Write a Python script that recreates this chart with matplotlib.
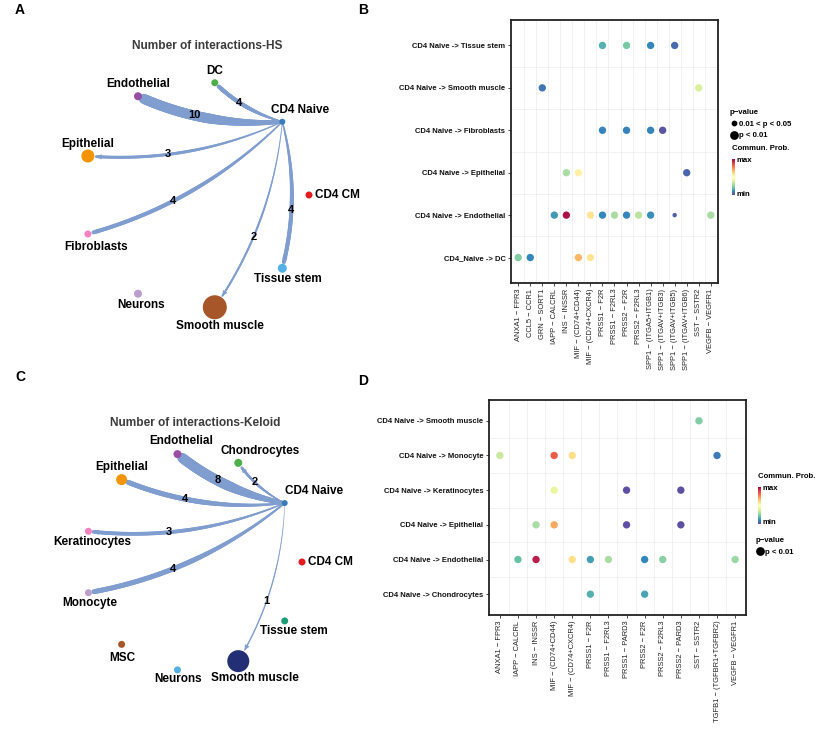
import numpy as np
import matplotlib
matplotlib.use("Agg")
import matplotlib.pyplot as plt
from matplotlib.collections import LineCollection
from matplotlib.lines import Line2D
from matplotlib.colors import Normalize
from matplotlib.cm import ScalarMappable

plt.rcParams['font.family'] = ['Liberation Sans', 'DejaVu Sans']

# ---------------- data: network HS (panel A) ----------------
hs_nodes = ["CD4 CM", "CD4 Naive", "DC", "Endothelial", "Epithelial",
            "Fibroblasts", "Neurons", "Smooth muscle", "Tissue stem"]
hs_colors = ['#E41A1C', '#377EB8', '#4DAF4A', '#984EA3', '#F29403',
             '#F781BF', '#BC9DCC', '#A65628', '#54B0E4']
hs_node_size = [3.5, 3, 3.5, 4, 6.5, 3.5, 4, 12, 4.5]
hs_targets = ["DC", "Endothelial", "Epithelial", "Fibroblasts", "Smooth muscle", "Tissue stem"]
hs_counts = [4, 10, 3, 4, 2, 4]

# ---------------- data: network Keloid (panel C) ----------------
kel_nodes = ["CD4 CM", "CD4 Naive", "Chondrocytes", "Endothelial", "Epithelial",
             "Keratinocytes", "Monocyte", "MSC", "Neurons", "Smooth muscle", "Tissue stem"]
kel_colors = ['#E41A1C', '#377EB8', '#4DAF4A', '#984EA3', '#F29403', '#F781BF',
              '#BC9DCC', '#A65628', '#54B0E4', '#222F75', '#1B9E77']
kel_node_size = [3.5, 3, 4, 4, 5.5, 3.5, 3.5, 3.5, 3.5, 11, 3.5]
kel_targets = ["Chondrocytes", "Endothelial", "Epithelial", "Keratinocytes", "Monocyte", "Smooth muscle"]
kel_counts = [2, 8, 4, 3, 4, 1]

# ---------------- data: bubble HS (panel B) ----------------
b_cols = ["ANXA1 − FPR3", "CCL5 − CCR1", "GRN − SORT1", "IAPP − CALCRL", "INS − INSSR",
          "MIF − (CD74+CD44)", "MIF − (CD74+CXCR4)", "PRSS1 − F2R", "PRSS1 − F2RL3",
          "PRSS2 − F2R", "PRSS2 − F2RL3", "SPP1 − (ITGA5+ITGB1)", "SPP1 − (ITGAV+ITGB3)",
          "SPP1 − (ITGAV+ITGB5)", "SPP1 − (ITGAV+ITGB6)", "SST − SSTR2", "VEGFB − VEGFR1"]
b_targets = ["Tissue stem", "Smooth muscle", "Fibroblasts", "Epithelial", "Endothelial", "DC"]
b_rows = ["CD4 Naive -> Tissue stem", "CD4 Naive -> Smooth muscle", "CD4 Naive -> Fibroblasts",
          "CD4 Naive -> Epithelial", "CD4 Naive -> Endothelial", "CD4_Naive -> DC"]
b_row = ["Tissue stem"] * 4 + ["Smooth muscle"] * 2 + ["Fibroblasts"] * 4 + ["Epithelial"] * 3 \
    + ["Endothelial"] * 10 + ["DC"] * 4
b_col = [7, 9, 11, 13,
         2, 15,
         7, 9, 11, 12,
         4, 5, 14,
         3, 4, 6, 7, 8, 9, 10, 11, 13, 16,
         0, 1, 5, 6]
b_prob = [0.17, 0.23, 0.10, 0.05,
          0.07, 0.38,
          0.09, 0.09, 0.09, 0.01,
          0.30, 0.55, 0.04,
          0.13, 0.97, 0.58, 0.10, 0.30, 0.10, 0.33, 0.11, 0.03, 0.30,
          0.24, 0.10, 0.68, 0.58]
b_sig = [1] * 21 + [0] + [1] * 5   # 1: p < 0.01, 0: 0.01 < p < 0.05

# ---------------- data: bubble Keloid (panel D) ----------------
d_cols = ["ANXA1 − FPR3", "IAPP − CALCRL", "INS − INSSR", "MIF − (CD74+CD44)", "MIF − (CD74+CXCR4)",
          "PRSS1 − F2R", "PRSS1 − F2RL3", "PRSS1 − PARD3", "PRSS2 − F2R", "PRSS2 − F2RL3",
          "PRSS2 − PARD3", "SST − SSTR2", "TGFB1 − (TGFBR1+TGFBR2)", "VEGFB − VEGFR1"]
d_targets = ["Smooth muscle", "Monocyte", "Keratinocytes", "Epithelial", "Endothelial", "Chondrocytes"]
d_rows = ["CD4 Naive -> " + t for t in d_targets]
d_row = ["Smooth muscle"] + ["Monocyte"] * 4 + ["Keratinocytes"] * 3 + ["Epithelial"] * 4 \
    + ["Endothelial"] * 8 + ["Chondrocytes"] * 2
d_col = [11,
         0, 3, 4, 12,
         3, 7, 10,
         2, 3, 7, 10,
         1, 2, 4, 5, 6, 8, 9, 13,
         5, 8]
d_prob = [0.24,
          0.35, 0.83, 0.60, 0.08,
          0.42, 0.0, 0.0,
          0.30, 0.71, 0.0, 0.0,
          0.20, 0.95, 0.60, 0.14, 0.30, 0.10, 0.25, 0.28,
          0.17, 0.15]
d_sig = [1] * len(d_prob)

# ---------------- style ----------------
edge_color = '#809dd0'
hs_lab_dx = [6, 18, 0, 0, 0, 8, 3, 5, 6]
hs_lab_dy = [0, -12, -12, -12, -12, 13, 11, 19, 11]
kel_lab_dx = [6, 29, 22, 4, 0, 4, 1, 1, 1, 17, 9]
kel_lab_dy = [0, -12, -12, -13, -13, 11, 10, 14, 9, 17, 10]

W, H = 837, 729
fig = plt.figure(figsize=(W / 100, H / 100), dpi=100)

net = fig.add_axes([0, 0, 420 / W, 1])
net.set_xlim(0, 420)
net.set_ylim(H, 0)
net.axis('off')


def draw_network(ax, nodes, colors, sizes, targets, counts, center, R, ldx, ldy, title, tpos):
    n = len(nodes)
    ang = 2 * np.pi * np.arange(n) / n
    xy = np.c_[center[0] + R * np.cos(ang), center[1] - R * np.sin(ang)]
    src = xy[nodes.index("CD4 Naive")]
    wmax = max(counts)
    for tgt, c in zip(targets, counts):
        k = nodes.index(tgt)
        p2 = xy[k]
        d = p2 - src
        L = np.hypot(*d)
        perp = np.array([d[1], -d[0]]) / L
        p1 = (src + p2) / 2 + 0.13 * L * perp
        t = np.linspace(0, 1, 120)[:, None]
        pts = (1 - t) ** 2 * src + 2 * t * (1 - t) * p1 + t ** 2 * p2
        keep = np.hypot(*(pts - p2).T) > sizes[k] + 1.5
        pts = pts[keep]
        tt = t[keep][:-1, 0]
        segs = np.stack([pts[:-1], pts[1:]], axis=1)
        lw = 7.2 * c / wmax * (0.35 + 0.65 * np.clip(tt / 0.5, 0, 1))
        ax.add_collection(LineCollection(segs, linewidths=lw, colors=edge_color,
                                         capstyle='round', zorder=1))
        ax.annotate('', xy=pts[-1], xytext=pts[-6],
                    arrowprops=dict(arrowstyle='-|>,head_length=0.3,head_width=0.15',
                                    color=edge_color, lw=0.5, shrinkA=0, shrinkB=0), zorder=2)
        tl = 0.6
        lp = (1 - tl) ** 2 * src + 2 * tl * (1 - tl) * p1 + tl ** 2 * p2
        ax.text(lp[0], lp[1], str(c), ha='center', va='center', fontsize=8, fontweight='bold', zorder=4)
    ax.scatter(xy[:, 0], xy[:, 1], s=(2 * np.array(sizes) * 0.72) ** 2, c=colors,
               edgecolors='none', zorder=3)
    for i, nm in enumerate(nodes):
        ha = 'left' if i == 0 else 'center'
        ax.text(xy[i, 0] + ldx[i], xy[i, 1] + ldy[i], nm, ha=ha, va='center',
                fontsize=8.5, fontweight='bold', zorder=4)
    ax.text(tpos[0], tpos[1], title, ha='center', va='center', fontsize=8.6,
            fontweight='bold', color='#3c3c3c')


draw_network(net, hs_nodes, hs_colors, hs_node_size, hs_targets, hs_counts,
             (195, 195), 114, hs_lab_dx, hs_lab_dy, "Number of interactions-HS", (207, 46))
draw_network(net, kel_nodes, kel_colors, kel_node_size, kel_targets, kel_counts,
             (193, 562), 109, kel_lab_dx, kel_lab_dy, "Number of interactions-Keloid", (195, 423))


def draw_bubble(ax, rows, targets, cols, e_row, e_col, e_prob, e_sig):
    nr, nc = len(rows), len(cols)
    x = np.array(e_col) + 1
    y = np.array([nr - targets.index(r) for r in e_row])
    s = np.where(np.array(e_sig) == 1, 28, 10)
    for v in np.arange(1.5, nc):
        ax.axvline(v, color='#ebebeb', lw=0.5, zorder=0)
    for v in np.arange(1.5, nr):
        ax.axhline(v, color='#ebebeb', lw=0.5, zorder=0)
    ax.scatter(x, y, c=e_prob, cmap='Spectral_r', vmin=0, vmax=1, s=s, edgecolors='none', zorder=3)
    ax.set_xlim(0.4, nc + 0.6)
    ax.set_ylim(0.4, nr + 0.6)
    ax.set_xticks(range(1, nc + 1))
    ax.set_xticklabels(cols, rotation=90, fontsize=5.4, color='#222')
    ax.set_yticks(range(1, nr + 1))
    ax.set_yticklabels(rows[::-1], fontsize=5.5, fontweight='bold', color='#111')
    ax.tick_params(length=2, width=0.5, pad=2)
    for sp in ax.spines.values():
        sp.set_linewidth(1.3)
        sp.set_color('#222')


axb = fig.add_axes([511 / W, 1 - 283 / H, 207 / W, 263 / H])
draw_bubble(axb, b_rows, b_targets, b_cols, b_row, b_col, b_prob, b_sig)
axd = fig.add_axes([489 / W, 1 - 615 / H, 257 / W, 215 / H])
draw_bubble(axd, d_rows, d_targets, d_cols, d_row, d_col, d_prob, d_sig)

# legends
lfont = dict(fontsize=5.6, fontweight='bold')


def colorbar_legend(x, ytop, ybot):
    cax = fig.add_axes([x / W, 1 - ybot / H, 3.5 / W, (ybot - ytop) / H])
    cb = fig.colorbar(ScalarMappable(norm=Normalize(0, 1), cmap='Spectral_r'), cax=cax)
    cb.outline.set_visible(False)
    cax.set_xticks([])
    cax.set_yticks([])
    fig.text((x + 5) / W, 1 - (ytop + 1) / H, "max", ha='left', va='center', **lfont)
    fig.text((x + 5) / W, 1 - (ybot - 1) / H, "min", ha='left', va='center', **lfont)


def pvalue_legend(ax, labels, sizes, x, ytop):
    handles = [Line2D([], [], marker='o', ls='', color='black', markersize=np.sqrt(s)) for s in sizes]
    ax.legend(handles, labels, title="p−value", loc='upper left', bbox_to_anchor=(x / W, 1 - ytop / H),
              bbox_transform=fig.transFigure, frameon=False, prop={'size': 5.6, 'weight': 'bold'},
              title_fontproperties={'size': 5.6, 'weight': 'bold'}, handletextpad=0.2,
              labelspacing=0.55, borderpad=0, borderaxespad=0, handlelength=1.0, alignment='left')


pvalue_legend(axb, ["0.01 < p < 0.05", "p < 0.01"], [10, 28], 730, 109)
fig.text(732 / W, 1 - 149 / H, "Commun. Prob.", ha='left', va='center', **lfont)
colorbar_legend(732, 159, 195)

fig.text(758 / W, 1 - 476 / H, "Commun. Prob.", ha='left', va='center', **lfont)
colorbar_legend(758, 487, 524)
pvalue_legend(axd, ["p < 0.01"], [28], 756, 537)

for lab, px, py in [("A", 20, 10), ("B", 363, 10), ("C", 20, 377), ("D", 363, 381)]:
    fig.text(px / W, 1 - py / H, lab, ha='center', va='center', fontsize=10, fontweight='bold')

fig.savefig("out.png", dpi=100)
